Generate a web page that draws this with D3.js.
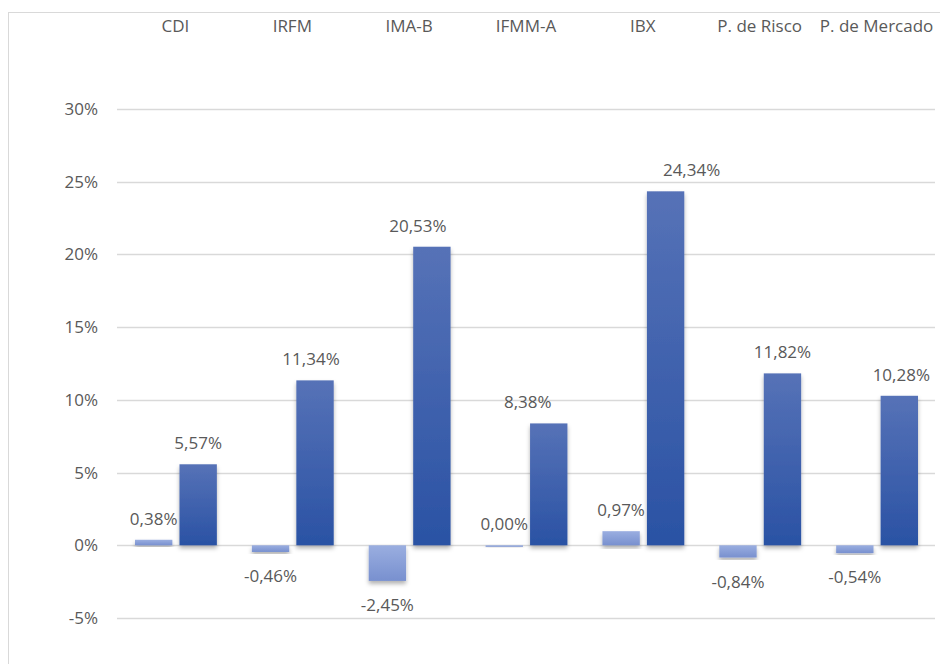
<!DOCTYPE html>
<html lang="pt">
<head>
<meta charset="utf-8">
<title>Retornos</title>
<script src="https://cdn.jsdelivr.net/npm/d3@7"></script>
<style>
  body { margin: 0; background: #fff; }
  svg { display: block; }
  text { font-family: "Open Sans", "Liberation Sans", sans-serif; fill: #595959; }
</style>
</head>
<body>
<svg width="940" height="664"></svg>
<script>
// dados
var categorias = ["CDI", "IRFM", "IMA-B", "IFMM-A", "IBX", "P. de Risco", "P. de Mercado"];
var serieA = [0.38, -0.46, -2.45, 0.00, 0.97, -0.84, -0.54];
var serieB = [5.57, 11.34, 20.53, 8.38, 24.34, 11.82, 10.28];
var ticks = [-5, 0, 5, 10, 15, 20, 25, 30];
// deslocamento horizontal dos rótulos da série B (como no original)
var ajusteRotuloB = [0, -4, -14, -21, 26, 0, 2];

var svg = d3.select("svg");
var mLeft = 117, mRight = 935, mTop = 109, mBottom = 618;
var fs = 17;

var defs = svg.append("defs");
var gB = defs.append("linearGradient").attr("id", "gB").attr("x1", 0).attr("x2", 0).attr("y1", 0).attr("y2", 1);
gB.append("stop").attr("offset", "0%").attr("stop-color", "#5672b7");
gB.append("stop").attr("offset", "100%").attr("stop-color", "#2a52a4");
var gA = defs.append("linearGradient").attr("id", "gA").attr("x1", 0).attr("x2", 0).attr("y1", 0).attr("y2", 1);
gA.append("stop").attr("offset", "0%").attr("stop-color", "#9aaee0");
gA.append("stop").attr("offset", "100%").attr("stop-color", "#7890cf");
var sh = defs.append("filter").attr("id", "sh").attr("x", "-20%").attr("y", "-20%").attr("width", "140%").attr("height", "140%");
sh.append("feDropShadow").attr("dx", 0).attr("dy", 3).attr("stdDeviation", 2)
  .attr("flood-color", "#000").attr("flood-opacity", 0.3);

// borda
svg.append("rect").attr("x", 8.5).attr("y", 12.5).attr("width", 940).attr("height", 700)
  .attr("fill", "none").attr("stroke", "#d9d9d9");

var y = d3.scaleLinear().domain([-5, 30]).range([mBottom, mTop]);
var x = d3.scaleBand().domain(categorias).range([mLeft, mRight]).paddingInner(0).paddingOuter(0);
var xs = d3.scaleBand().domain(["A", "B"]).range([18, x.bandwidth() - 17]).paddingInner(0.16);

// grade
svg.append("g").selectAll("line").data(ticks).join("line")
  .attr("x1", mLeft).attr("x2", mRight)
  .attr("y1", function(d) { return Math.round(y(d)) + 0.5; })
  .attr("y2", function(d) { return Math.round(y(d)) + 0.5; })
  .attr("stroke", "#d9d9d9").attr("stroke-width", 1.3);

var yAxis = svg.append("g").attr("transform", "translate(" + (mLeft - 19) + ",0)")
  .call(d3.axisLeft(y).tickValues(ticks).tickSize(0).tickPadding(0)
    .tickFormat(function(d) { return d + "%"; }));
yAxis.select(".domain").remove();
yAxis.selectAll("text").attr("font-size", fs).attr("fill", "#595959")
  .style("font-family", "\"Open Sans\", sans-serif");

var xAxis = svg.append("g").attr("transform", "translate(0,32)")
  .call(d3.axisTop(x).tickSize(0).tickPadding(0));
xAxis.select(".domain").remove();
xAxis.selectAll("text").attr("font-size", fs).attr("fill", "#595959")
  .style("font-family", "\"Open Sans\", sans-serif");

var fmt = function(v) { return v.toFixed(2).replace(".", ",") + "%"; };

var grupos = svg.append("g").selectAll("g").data(categorias).join("g")
  .attr("transform", function(d) { return "translate(" + x(d) + ",0)"; });

// série A
grupos.append("rect")
  .attr("x", xs("A")).attr("width", xs.bandwidth())
  .attr("y", function(d, i) { return Math.min(y(serieA[i]), y(0)); })
  .attr("height", function(d, i) { return Math.max(Math.abs(y(serieA[i]) - y(0)), 1.5); })
  .attr("fill", "url(#gA)").attr("filter", "url(#sh)");
// série B
grupos.append("rect")
  .attr("x", xs("B")).attr("width", xs.bandwidth())
  .attr("y", function(d, i) { return y(serieB[i]); })
  .attr("height", function(d, i) { return y(0) - y(serieB[i]); })
  .attr("fill", "url(#gB)").attr("filter", "url(#sh)");

grupos.append("text")
  .attr("x", xs("A") + xs.bandwidth() / 2)
  .attr("y", function(d, i) { return serieA[i] >= 0 ? y(serieA[i]) - 15 : y(serieA[i]) + 30; })
  .attr("text-anchor", "middle").attr("font-size", fs)
  .text(function(d, i) { return fmt(serieA[i]); });
grupos.append("text")
  .attr("x", function(d, i) { return xs("B") + xs.bandwidth() / 2 + ajusteRotuloB[i]; })
  .attr("y", function(d, i) { return y(serieB[i]) - 15; })
  .attr("text-anchor", "middle").attr("font-size", fs)
  .text(function(d, i) { return fmt(serieB[i]); });
</script>
</body>
</html>
